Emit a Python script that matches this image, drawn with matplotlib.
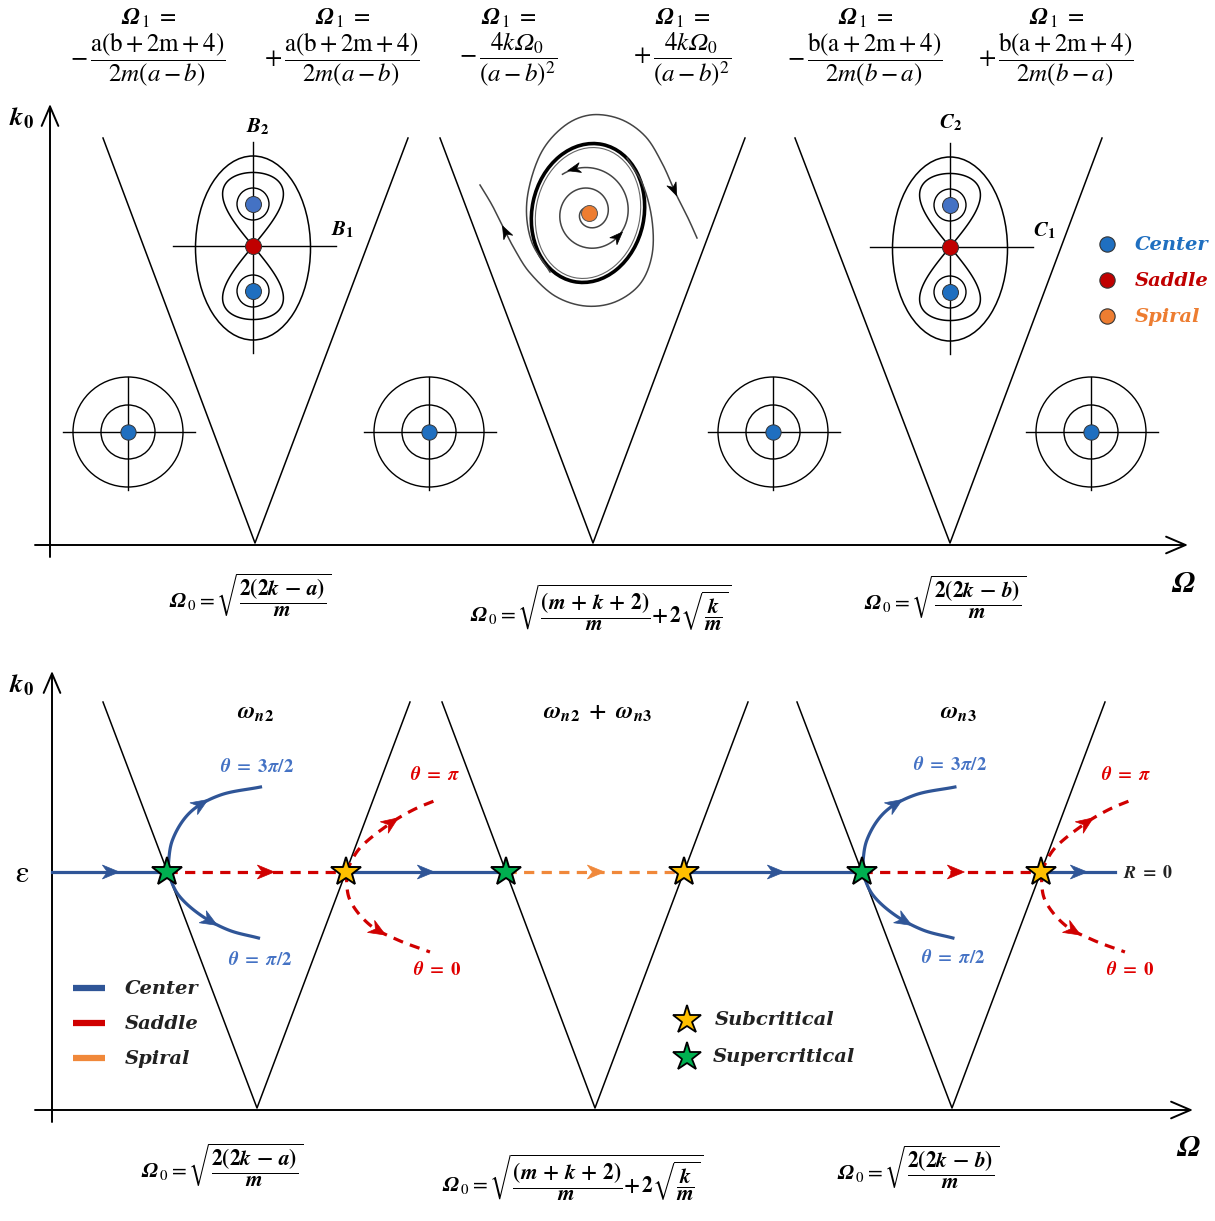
import numpy as np
import matplotlib.pyplot as plt
from matplotlib.patches import Circle, Ellipse, Polygon

plt.rcParams['mathtext.fontset'] = 'stix'
plt.rcParams['font.family'] = ['DejaVu Serif', 'DejaVu Sans']

# ---- layout of the two stability charts (pixel space, y grows downward) ----
top_vertex_x = [255, 593, 950]
top_arm_left = [103, 440, 795]
top_arm_right = [408, 745, 1102]
top_axis_y, top_arm_y = 543, 138

bot_vertex_x = [257, 595, 952]
bot_arm_left = [103, 442, 797]
bot_arm_right = [410, 748, 1105]
bot_axis_y, bot_arm_y = 1108, 702
eps_y = 872

# kinds of the R = 0 branch between successive bifurcation points
segment_kind = ['Center', 'Saddle', 'Center', 'Spiral', 'Center', 'Saddle', 'Center']
star_kind = ['Supercritical', 'Subcritical'] * 3
has_branches = [True, True, False, False, True, True]
segment_arrow_x = [110, 265, 425, 595, 775, 955, 1078]

kind_color = {'Center': '#2f5597', 'Saddle': '#d00000', 'Spiral': '#f0883a'}
dot_color = {'Center': '#1f6fc0', 'Saddle': '#c00000', 'Spiral': '#ed7d31'}
star_color = {'Subcritical': '#ffc000', 'Supercritical': '#00b050'}

# centre-type portraits outside the tongues
center_portraits = [(128, 432), (429, 432), (773, 432), (1091, 432)]
# saddle + two centres portraits inside the outer tongues
saddle_portraits = [(253, 246), (950, 247)]
spiral_focus = (589, 213)

# branch shapes leaving each bifurcation star (offsets in px)
up_branch = [(0, 0), (5, -32), (23, -60), (53, -77), (93, -85)]
low_branch = [(0, 0), (11, 23), (33, 43), (61, 58), (91, 66)]
up_red = [(0, 0), (14, -24), (42, -47), (67, -62), (93, -73)]
low_red = [(0, 0), (4, 28), (24, 53), (52, 68), (84, 80)]

top_formula_x = [148, 342, 508, 682, 865, 1056]
top_formula_frac = [
    r'$-\,\dfrac{\mathrm{a(b+2m+4)}}{2m(a-b)}$',
    r'$+\,\dfrac{\mathrm{a(b+2m+4)}}{2m(a-b)}$',
    r'$-\,\dfrac{4k𝛺_0}{(a-b)^2}$',
    r'$+\,\dfrac{4k𝛺_0}{(a-b)^2}$',
    r'$-\,\dfrac{\mathrm{b(a+2m+4)}}{2m(b-a)}$',
    r'$+\,\dfrac{\mathrm{b(a+2m+4)}}{2m(b-a)}$',
]
omega0_labels = [
    r'$\mathbfit{\Omega}_{\,\mathrm{0}} = \sqrt{\dfrac{\mathbf{2(2}\mathbfit{k}\mathbf{\,-\,}\mathbfit{a}\mathbf{)}}{\mathbfit{m}}}$',
    r'$\mathbfit{\Omega}_{\,\mathrm{0}} = \sqrt{\dfrac{\mathbf{(}\mathbfit{m}\mathbf{\,+\,}\mathbfit{k}\mathbf{\,+\,2)}}{\mathbfit{m}} \mathbf{+\,2}\sqrt{\dfrac{\mathbfit{k}}{\mathbfit{m}}}}$',
    r'$\mathbfit{\Omega}_{\,\mathrm{0}} = \sqrt{\dfrac{\mathbf{2(2}\mathbfit{k}\mathbf{\,-\,}\mathbfit{b}\mathbf{)}}{\mathbfit{m}}}$',
]
omega0_top_pos = [(250, 595), (600, 608), (945, 597)]
omega0_bot_pos = [(222, 1165), (572, 1178), (918, 1167)]

fig = plt.figure(figsize=(12.15, 12.21), dpi=100)
ax = fig.add_axes([0, 0, 1, 1])
ax.set_xlim(0, 1215)
ax.set_ylim(1221, 0)
ax.axis('off')


def smooth(pts, n=30):
    # Catmull-Rom through the way points
    p = np.array(pts, dtype=float)
    p = np.vstack([2 * p[0] - p[1], p, 2 * p[-1] - p[-2]])
    out = []
    for i in range(1, len(p) - 2):
        p0, p1, p2, p3 = p[i - 1], p[i], p[i + 1], p[i + 2]
        t = np.linspace(0, 1, n, endpoint=False)[:, None]
        out.append(0.5 * ((2 * p1) + (-p0 + p2) * t + (2 * p0 - 5 * p1 + 4 * p2 - p3) * t ** 2
                          + (-p0 + 3 * p1 - 3 * p2 + p3) * t ** 3))
    out.append(p[-2][None, :])
    c = np.vstack(out)
    return c[:, 0], c[:, 1]


def stealth(x, y, dx, dy, color, length=16, width=13, z=6):
    # barbed arrow head centred on (x, y) pointing along (dx, dy)
    d = np.array([dx, dy], float)
    d /= np.hypot(*d)
    n = np.array([-d[1], d[0]])
    p = np.array([x, y], float)
    tip = p + d * length * 0.55
    back = p - d * length * 0.45
    notch = back + d * length * 0.3
    pts = [tip, back + n * width / 2, notch, back - n * width / 2]
    ax.add_patch(Polygon(pts, closed=True, fc=color, ec=color, lw=0.5, zorder=z))


def head_on(xs, ys, frac, color, length=16, width=13):
    d = np.r_[0, np.cumsum(np.hypot(np.diff(xs), np.diff(ys)))]
    i = int(np.clip(np.searchsorted(d, frac * d[-1]), 1, len(xs) - 1))
    stealth(xs[i], ys[i], xs[i] - xs[i - 1], ys[i] - ys[i - 1], color, length, width)


def axis_arrow(x0, y0, x1, y1):
    ax.annotate('', xy=(x1, y1), xytext=(x0, y0),
                arrowprops=dict(arrowstyle='->,head_length=0.7,head_width=0.3',
                                color='k', lw=1.4, shrinkA=0, shrinkB=0, mutation_scale=20))


def wedges(vx, left, right, ybase, ytop):
    for v, l, r in zip(vx, left, right):
        ax.plot([l, v, r], [ytop, ybase, ytop], color='k', lw=1.1, zorder=2)


# ---------------- top chart ----------------
axis_arrow(50, 557, 50, 104)
axis_arrow(35, top_axis_y + 2, 1188, top_axis_y + 2)
wedges(top_vertex_x, top_arm_left, top_arm_right, top_axis_y, top_arm_y)
ax.text(22, 118, r'$\mathbfit{k}_{\mathbf{0}}$', fontsize=19, ha='center', va='center')
ax.text(1183, 583, r'$\mathbfit{\Omega}$', fontsize=22, ha='center', va='center')

for (cx, cy) in center_portraits:
    ax.plot([cx - 65, cx + 67], [cy, cy], color='k', lw=1.0)
    ax.plot([cx, cx], [cy - 55, cy + 58], color='k', lw=1.0)
    for r in (27, 55):
        ax.add_patch(Circle((cx, cy), r, fill=False, ec='k', lw=1.0))
    ax.plot(cx, cy, 'o', ms=11, mfc=dot_color['Center'], mec='#333333', mew=0.7, zorder=5)

uu, vv = np.meshgrid(np.linspace(-1.2, 1.2, 300), np.linspace(-1.7, 1.7, 400))
ham = uu ** 2 / 2 + vv ** 4 / 4 - vv ** 2 / 2
for (cx, cy) in saddle_portraits:
    ax.plot([cx - 80, cx + 83], [cy, cy], color='k', lw=1.0)
    ax.plot([cx, cx], [cy - 104, cy + 107], color='k', lw=1.0)
    ax.add_patch(Ellipse((cx, cy + 2), 115, 184, fill=False, ec='k', lw=1.1))
    ax.contour(cx + 43 * uu, cy + 52 * vv, ham, levels=[0.0], colors='k', linewidths=1.1)
    for dy in (-42, 45):
        ax.add_patch(Circle((cx, cy + dy), 16, fill=False, ec='k', lw=1.0))
    ax.plot(cx, cy - 42, 'o', ms=11.5, mfc='#4472c4', mec='#333333', mew=0.7, zorder=5)
    ax.plot(cx, cy + 45, 'o', ms=11.5, mfc=dot_color['Center'], mec='#333333', mew=0.7, zorder=5)
    ax.plot(cx, cy, 'o', ms=11.5, mfc=dot_color['Saddle'], mec='#333333', mew=0.7, zorder=5)

ax.text(258, 127, r'$\mathbfit{B}_{\mathbf{2}}$', fontsize=15, ha='center', va='center')
ax.text(343, 230, r'$\mathbfit{B}_{\mathbf{1}}$', fontsize=15, ha='center', va='center')
ax.text(951, 123, r'$\mathbfit{C}_{\mathbf{2}}$', fontsize=15, ha='center', va='center')
ax.text(1044, 231, r'$\mathbfit{C}_{\mathbf{1}}$', fontsize=15, ha='center', va='center')

# spiral portrait in the middle tongue
fx, fy = spiral_focus
ax.add_patch(Ellipse((fx - 1, fy), 112, 140, angle=12, fill=False, ec='k', lw=2.6))
ax.add_patch(Ellipse((fx - 1, fy), 104, 132, angle=12, fill=False, ec='#666666', lw=0.8))
t = np.linspace(0.5 * np.pi, 4.6 * np.pi, 400)
r = 10 * t / np.pi
sx = fx + r * np.cos(t + 0.3)
sy = fy - 1.03 * r * np.sin(t + 0.3)
ax.plot(sx, sy, color='#444444', lw=1.1)
head_on(sx, sy, 0.64, 'k', 13, 10)
head_on(sx, sy, 0.96, 'k', 13, 10)
outer_a = [(550, 272), (531, 240), (527, 200), (540, 155), (563, 127), (590, 115),
           (620, 119), (645, 136), (662, 163), (676, 194), (688, 218), (697, 238)]
outer_b = [(627, 158), (643, 185), (652, 220), (652, 255), (640, 284), (615, 302),
           (585, 306), (555, 296), (530, 273), (515, 250), (503, 227), (492, 205), (480, 185)]
for pts, f in ((outer_a, 0.85), (outer_b, 0.85)):
    ox, oy = smooth(pts)
    ax.plot(ox, oy, color='#444444', lw=1.1)
    head_on(ox, oy, f, 'k', 13, 10)
ax.plot(fx, fy, 'o', ms=11.5, mfc=dot_color['Spiral'], mec='#555555', mew=0.7, zorder=5)

# top legend
for i, k in enumerate(['Center', 'Saddle', 'Spiral']):
    y = 244 + i * 36
    ax.plot(1107, y, 'o', ms=11, mfc=dot_color[k], mec='#333333', mew=0.8)
    ax.text(1135, y + 1, k, fontsize=14, fontweight='bold', fontstyle='italic',
            color=dot_color[k], ha='left', va='center')

# formulas above the top chart
for x, frac in zip(top_formula_x, top_formula_frac):
    ax.text(x, 18, r'$\mathbfit{\Omega}_{\,\mathrm{1}}\ =$', fontsize=17, ha='center', va='center')
    ax.text(x, 60, frac, fontsize=18, ha='center', va='center')

for (x, y), s in zip(omega0_top_pos, omega0_labels):
    ax.text(x, y, s, fontsize=15.5, ha='center', va='center')

# ---------------- bottom chart ----------------
axis_arrow(52, 1122, 52, 671)
axis_arrow(35, bot_axis_y + 2, 1193, bot_axis_y + 2)
wedges(bot_vertex_x, bot_arm_left, bot_arm_right, bot_axis_y, bot_arm_y)
ax.text(22, 685, r'$\mathbfit{k}_{\mathbf{0}}$', fontsize=19, ha='center', va='center')
ax.text(1188, 1147, r'$\mathbfit{\Omega}$', fontsize=22, ha='center', va='center')
ax.text(22, 873, r'$\mathrm{\varepsilon}$', fontsize=22, ha='center', va='center')

# bifurcation points: where each tongue edge crosses k0 = epsilon
stars = []
for v, l, r in zip(bot_vertex_x, bot_arm_left, bot_arm_right):
    frac = (bot_axis_y - eps_y) / (bot_axis_y - bot_arm_y)
    stars.append(v + (l - v) * frac)
    stars.append(v + (r - v) * frac)

edges = [52] + stars + [1115]
for i, k in enumerate(segment_kind):
    ls = '-' if k == 'Center' else (0, (3.2, 2.3))
    ax.plot([edges[i], edges[i + 1]], [eps_y, eps_y], color=kind_color[k], lw=2.3, ls=ls, zorder=3)
    stealth(segment_arrow_x[i], eps_y, 1, 0, kind_color[k], 17, 14)

for i, sxp in enumerate(stars):
    if has_branches[i]:
        if star_kind[i] == 'Supercritical':
            shapes, col, ls = (up_branch, low_branch), kind_color['Center'], '-'
        else:
            shapes, col, ls = (up_red, low_red), kind_color['Saddle'], (0, (3.2, 2.3))
        for shp in shapes:
            bx, by = smooth([(sxp + dx, eps_y + dy) for dx, dy in shp])
            ax.plot(bx, by, color=col, lw=2.3, ls=ls, zorder=3)
            head_on(bx, by, 0.55, col, 17, 14)
    ax.plot(sxp, eps_y, '*', ms=22, mfc=star_color[star_kind[i]], mec='k', mew=1.4, zorder=7)

ax.text(1148, 873, r'$\mathbfit{R}\ \mathbf{=\ 0}$', fontsize=13, ha='center', va='center', color='#222222')

theta_labels = [
    (257, 767, r'$\mathbfit{\theta}\ \mathbf{=\ 3}\mathbfit{\pi}\mathbf{/2}$', '#4472c4'),
    (260, 960, r'$\mathbfit{\theta}\ \mathbf{=}\ \mathbfit{\pi}\mathbf{/2}$', '#4472c4'),
    (435, 775, r'$\mathbfit{\theta}\ \mathbf{=}\ \mathbfit{\pi}$', '#e00000'),
    (437, 970, r'$\mathbfit{\theta}\ \mathbf{=\ 0}$', '#e00000'),
    (950, 765, r'$\mathbfit{\theta}\ \mathbf{=\ 3}\mathbfit{\pi}\mathbf{/2}$', '#4472c4'),
    (953, 958, r'$\mathbfit{\theta}\ \mathbf{=}\ \mathbfit{\pi}\mathbf{/2}$', '#4472c4'),
    (1126, 775, r'$\mathbfit{\theta}\ \mathbf{=}\ \mathbfit{\pi}$', '#e00000'),
    (1130, 970, r'$\mathbfit{\theta}\ \mathbf{=\ 0}$', '#e00000'),
]
for x, y, s, c in theta_labels:
    ax.text(x, y, s, fontsize=13.5, ha='center', va='center', color=c)

mode_labels = [r'$\mathbfit{\omega}_{\mathbfit{n}\mathbf{2}}$',
               r'$\mathbfit{\omega}_{\mathbfit{n}\mathbf{2}}\mathbf{\ +\ }\mathbfit{\omega}_{\mathbfit{n}\mathbf{3}}$',
               r'$\mathbfit{\omega}_{\mathbfit{n}\mathbf{3}}$']
for x, s in zip([255, 597, 958], mode_labels):
    ax.text(x, 712, s, fontsize=17, ha='center', va='center')

# bottom legends
for i, k in enumerate(['Center', 'Saddle', 'Spiral']):
    y = 988 + i * 35
    ax.plot([73, 105], [y, y], color=kind_color[k], lw=4.5, solid_capstyle='butt')
    ax.text(125, y + 1, k, fontsize=14, fontweight='bold', fontstyle='italic',
            color='#222222', ha='left', va='center')
for i, k in enumerate(['Subcritical', 'Supercritical']):
    y = 1020 + i * 37
    ax.plot(687, y, '*', ms=21, mfc=star_color[k], mec='k', mew=1.3)
    ax.text(715 - 2 * i, y, k, fontsize=14, fontweight='bold', fontstyle='italic',
            color='#222222', ha='left', va='center')

for (x, y), s in zip(omega0_bot_pos, omega0_labels):
    ax.text(x, y, s, fontsize=15.5, ha='center', va='center')

fig.savefig('out.png', dpi=100)
